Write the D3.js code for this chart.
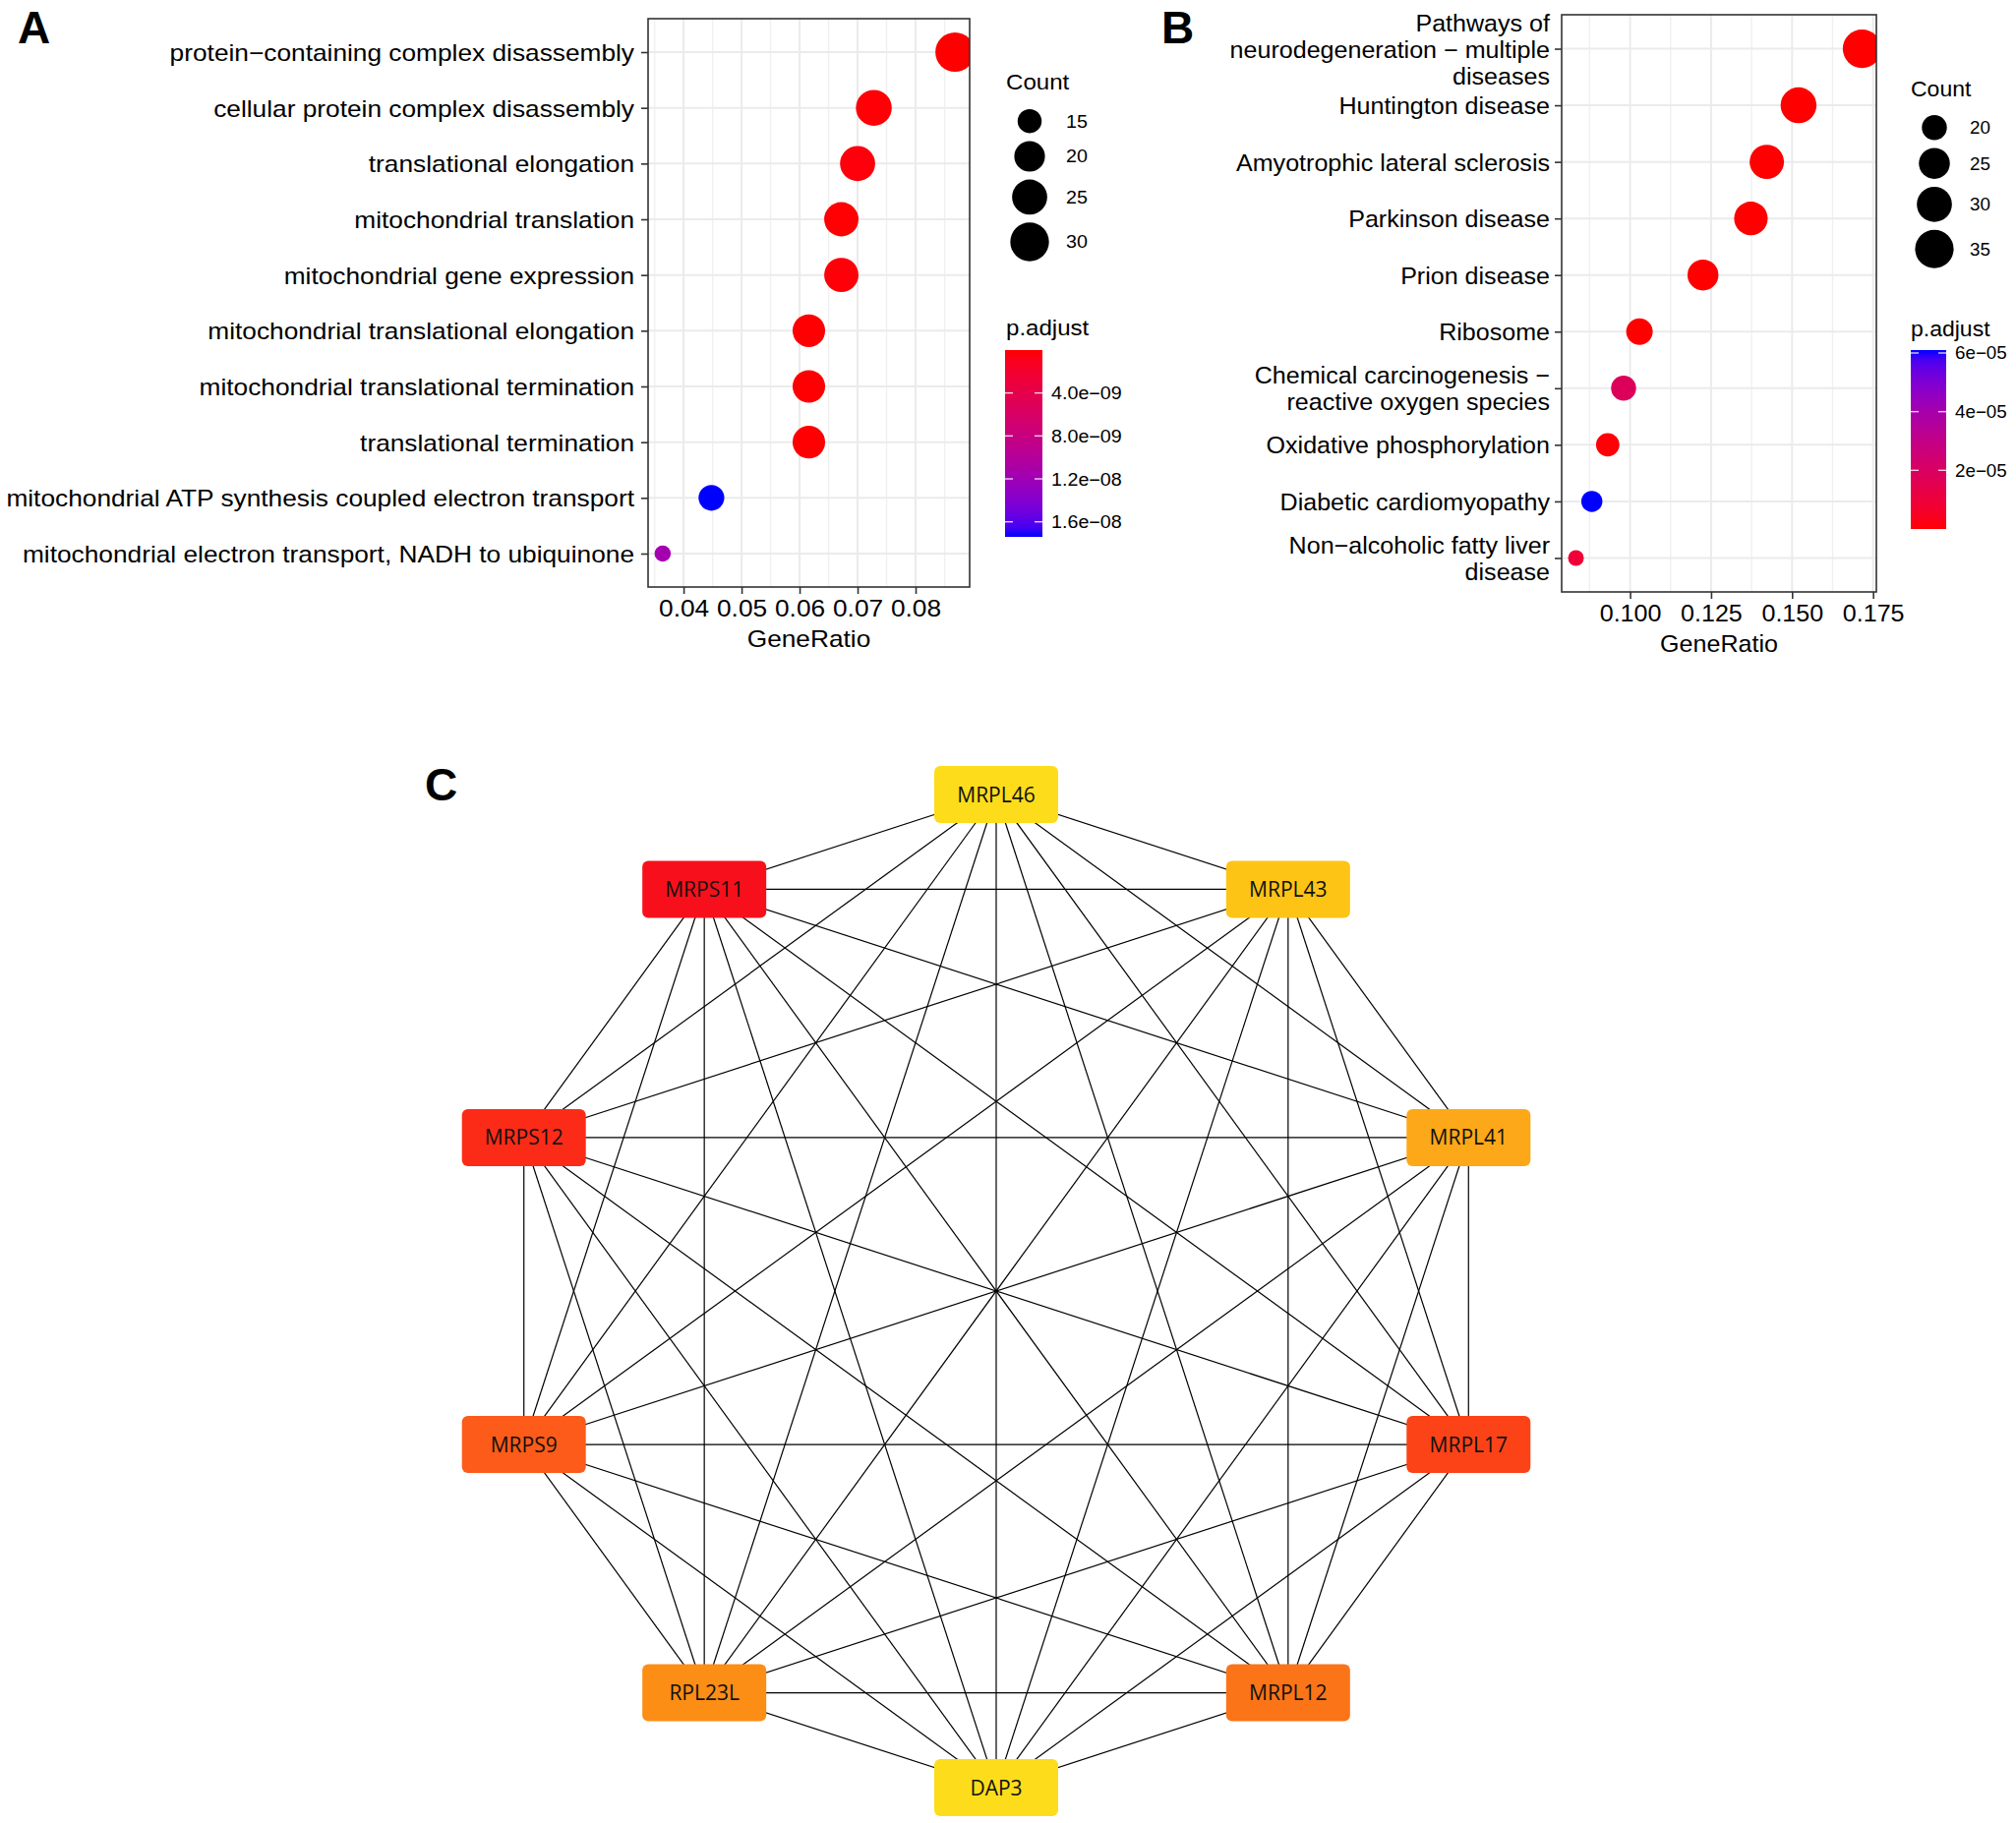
<!DOCTYPE html>
<html><head><meta charset="utf-8">
<script src="https://cdn.jsdelivr.net/npm/d3@7"></script>
<style>body{margin:0;background:#fff}svg{display:block}</style>
</head><body>
<svg id="fig" width="2050" height="1854"></svg>
<script>
// ---------------- DATA ----------------
// Panel A: GO enrichment
const goTerms = [
  ["protein−containing complex disassembly"],
  ["cellular protein complex disassembly"],
  ["translational elongation"],
  ["mitochondrial translation"],
  ["mitochondrial gene expression"],
  ["mitochondrial translational elongation"],
  ["mitochondrial translational termination"],
  ["translational termination"],
  ["mitochondrial ATP synthesis coupled electron transport"],
  ["mitochondrial electron transport, NADH to ubiquinone"]
];
const goRatio = [0.0868, 0.0728, 0.0700, 0.0672, 0.0672, 0.0616, 0.0616, 0.0616, 0.0448, 0.0364];
const goCount = [31, 26, 25, 24, 24, 22, 22, 22, 16, 13];
const goPadj  = [4.0e-12, 1.5e-10, 3.1e-10, 8.0e-11, 2.4e-10, 6.5e-11, 6.5e-11, 7.0e-11, 1.74e-8, 1.16e-8];
const goTicks = [0.04, 0.05, 0.06, 0.07, 0.08];
const goTickLabels = ["0.04", "0.05", "0.06", "0.07", "0.08"];
const goCountBreaks = [15, 20, 25, 30];
const goPadjBreaks = [4e-9, 8e-9, 1.2e-8, 1.6e-8];
const goPadjLabels = ["4.0e−09", "8.0e−09", "1.2e−08", "1.6e−08"];

// Panel B: KEGG enrichment
const keggTerms = [
  ["Pathways of", "neurodegeneration − multiple", "diseases"],
  ["Huntington disease"],
  ["Amyotrophic lateral sclerosis"],
  ["Parkinson disease"],
  ["Prion disease"],
  ["Ribosome"],
  ["Chemical carcinogenesis −", "reactive oxygen species"],
  ["Oxidative phosphorylation"],
  ["Diabetic cardiomyopathy"],
  ["Non−alcoholic fatty liver", "disease"]
];
const keggRatio = [0.1716, 0.1520, 0.1422, 0.1373, 0.1225, 0.1029, 0.0980, 0.0931, 0.0882, 0.0833];
const keggCount = [35, 31, 29, 28, 25, 21, 20, 19, 18, 17];
const keggPadj  = [2.0e-10, 1.1e-9, 3.5e-9, 2.2e-9, 4.0e-8, 9.0e-8, 1.8e-5, 6.0e-7, 6.1e-5, 9.0e-6];
const keggTicks = [0.100, 0.125, 0.150, 0.175];
const keggTickLabels = ["0.100", "0.125", "0.150", "0.175"];
const keggCountBreaks = [20, 25, 30, 35];
const keggPadjBreaks = [2e-5, 4e-5, 6e-5];
const keggPadjLabels = ["2e−05", "4e−05", "6e−05"];

// Panel C: PPI network (circular layout, clockwise from top)
const ppiNodes = ["MRPL46", "MRPL43", "MRPL41", "MRPL17", "MRPL12", "DAP3", "RPL23L", "MRPS9", "MRPS12", "MRPS11"];
const ppiColors = ["#FDDD1B", "#FDC416", "#FCA818", "#FC4318", "#FB7417", "#FDDD1B", "#FC8D15", "#FC5B19", "#FB2B17", "#F7101B"];
const ppiEdges = [
  ["MRPL46","MRPL43"],["MRPL46","MRPL41"],["MRPL46","MRPL17"],["MRPL46","MRPL12"],["MRPL46","DAP3"],
  ["MRPL46","RPL23L"],["MRPL46","MRPS9"],["MRPL46","MRPS12"],["MRPL46","MRPS11"],
  ["MRPL43","MRPL41"],["MRPL43","MRPL17"],["MRPL43","MRPL12"],["MRPL43","DAP3"],["MRPL43","RPL23L"],
  ["MRPL43","MRPS9"],["MRPL43","MRPS12"],["MRPL43","MRPS11"],
  ["MRPL41","MRPL17"],["MRPL41","MRPL12"],["MRPL41","DAP3"],["MRPL41","RPL23L"],["MRPL41","MRPS9"],
  ["MRPL41","MRPS12"],["MRPL41","MRPS11"],
  ["MRPL17","MRPL12"],["MRPL17","DAP3"],["MRPL17","RPL23L"],["MRPL17","MRPS9"],["MRPL17","MRPS12"],["MRPL17","MRPS11"],
  ["MRPL12","DAP3"],["MRPL12","RPL23L"],["MRPL12","MRPS9"],["MRPL12","MRPS12"],["MRPL12","MRPS11"],
  ["DAP3","RPL23L"],["DAP3","MRPS9"],["DAP3","MRPS12"],["DAP3","MRPS11"],
  ["RPL23L","MRPS9"],["RPL23L","MRPS12"],["RPL23L","MRPS11"],
  ["MRPS9","MRPS12"],["MRPS9","MRPS11"],
  ["MRPS12","MRPS11"]
];

// ---------------- DRAWING ----------------
const svg = d3.select("#fig");
svg.append("rect").attr("width", 2050).attr("height", 1854).attr("fill", "#fff");
const FONT = "'Liberation Sans', Arial, Helvetica, sans-serif";
const AX = 24;     // axis text size
const LT = 22;     // legend title size
const LL = 18;     // legend label size

function stext(g, x, y, s, size, anchor, sx) {
  return g.append("text")
    .attr("transform", `translate(${x},${y}) scale(${sx},1)`)
    .attr("text-anchor", anchor || "start")
    .attr("font-family", FONT).attr("font-size", size).attr("fill", "#000")
    .text(s);
}

function dotplot(cfg) {
  const SX = cfg.sx;
  const g = svg.append("g");
  const n = cfg.terms.length;
  const lo = d3.min(cfg.ratio), hi = d3.max(cfg.ratio), pad = (hi - lo) * 0.05;
  const x = d3.scaleLinear().domain([lo - pad, hi + pad]).range([cfg.left, cfg.right]);
  const y = d3.scalePoint().domain(d3.range(n)).range([cfg.top, cfg.bottom]).padding(0.6);
  const cMin = d3.min(cfg.count), cMax = d3.max(cfg.count);
  const rLin = d3.scaleLinear().domain([0, 1]).range(cfg.rRange);
  const r = c => rLin(Math.sqrt(Math.max(0, (c - cMin) / (cMax - cMin))));
  const pMin = d3.min(cfg.padj), pMax = d3.max(cfg.padj);
  const col = d3.scaleLinear().domain([pMin, pMax]).range(["red", "blue"]).interpolate(d3.interpolateLab);

  // panel background + grid
  g.append("rect").attr("x", cfg.left).attr("y", cfg.top)
    .attr("width", cfg.right - cfg.left).attr("height", cfg.bottom - cfg.top).attr("fill", "#fff");
  const ticks = cfg.ticks;
  const step = ticks[1] - ticks[0];
  const minor = [];
  for (let i = -1; i < ticks.length; i++) {
    const v = ticks[0] + (i + 0.5) * step;
    if (v > x.domain()[0] && v < x.domain()[1]) minor.push(v);
  }
  g.selectAll(".mn").data(minor).enter().append("line")
    .attr("x1", d => x(d)).attr("x2", d => x(d)).attr("y1", cfg.top).attr("y2", cfg.bottom)
    .attr("stroke", "#f0f0f0").attr("stroke-width", 1.4);
  g.selectAll(".mj").data(ticks).enter().append("line")
    .attr("x1", d => x(d)).attr("x2", d => x(d)).attr("y1", cfg.top).attr("y2", cfg.bottom)
    .attr("stroke", "#ebebeb").attr("stroke-width", 2);
  g.selectAll(".hz").data(d3.range(n)).enter().append("line")
    .attr("x1", cfg.left).attr("x2", cfg.right).attr("y1", d => y(d)).attr("y2", d => y(d))
    .attr("stroke", "#ebebeb").attr("stroke-width", 2);

  // points (clipped to panel)
  const clipId = "clip" + cfg.id;
  svg.append("clipPath").attr("id", clipId).append("rect")
    .attr("x", cfg.left).attr("y", cfg.top).attr("width", cfg.right - cfg.left).attr("height", cfg.bottom - cfg.top);
  g.append("g").attr("clip-path", `url(#${clipId})`)
    .selectAll("circle").data(d3.range(n)).enter().append("circle")
    .attr("cx", i => x(cfg.ratio[i])).attr("cy", i => y(i)).attr("r", i => r(cfg.count[i]))
    .attr("fill", i => col(cfg.padj[i]));

  // border
  g.append("rect").attr("x", cfg.left).attr("y", cfg.top)
    .attr("width", cfg.right - cfg.left).attr("height", cfg.bottom - cfg.top)
    .attr("fill", "none").attr("stroke", "#333").attr("stroke-width", 1.6);

  // x axis
  const xa = g.append("g").attr("transform", `translate(0,${cfg.bottom})`)
    .call(d3.axisBottom(x).tickValues(ticks).tickSize(7).tickFormat((d, i) => cfg.tickLabels[i]));
  xa.select(".domain").remove();
  xa.selectAll(".tick line").attr("stroke", "#333").attr("stroke-width", 1.6);
  xa.selectAll(".tick text").attr("y", 0).attr("dy", null)
    .attr("transform", `translate(0,30) scale(${SX},1)`)
    .attr("font-family", FONT).attr("font-size", AX).attr("fill", "#000");

  // y axis
  const ya = g.append("g").attr("transform", `translate(${cfg.left},0)`)
    .call(d3.axisLeft(y).tickSize(7).tickFormat(""));
  ya.select(".domain").remove();
  ya.selectAll(".tick line").attr("stroke", "#333").attr("stroke-width", 1.6);
  ya.selectAll(".tick").each(function (i) {
    const lines = cfg.terms[i];
    const t = d3.select(this).append("text")
      .attr("transform", `translate(${-cfg.labelGap},0) scale(${SX},1)`)
      .attr("text-anchor", "end").attr("font-family", FONT).attr("font-size", AX).attr("fill", "#000");
    lines.forEach((s, k) => {
      t.append("tspan").attr("x", 0).attr("y", (k - (lines.length - 1) / 2) * 27 + 8.5).text(s);
    });
  });

  // x title
  stext(g, (cfg.left + cfg.right) / 2, cfg.bottom + 61, "GeneRatio", AX, "middle", SX);

  // panel tag
  g.append("text").attr("x", cfg.tagX).attr("y", 44).attr("font-family", FONT)
    .attr("font-weight", "bold").attr("font-size", 46).text(cfg.tag);

  // size legend
  const L = cfg.legend;
  stext(g, L.x, L.countTitleY, "Count", LT, "start", SX);
  let yy = L.keyTop;
  cfg.countBreaks.forEach(c => {
    const rr = r(c), h = 2 * rr + 8;
    const cy = yy + h / 2;
    g.append("circle").attr("cx", L.keyCx).attr("cy", cy).attr("r", rr).attr("fill", "#000");
    stext(g, L.keyLabelX, cy + 6.5, String(c), LL, "start", SX);
    yy += h;
  });

  // colour bar
  stext(g, L.x, L.padjTitleY, "p.adjust", LT, "start", SX);
  const gradId = "grad" + cfg.id;
  const gr = svg.append("defs").append("linearGradient").attr("id", gradId)
    .attr("x1", 0).attr("x2", 0).attr("y1", 0).attr("y2", 1);
  const yb = d3.scaleLinear().domain(cfg.reverseBar ? [pMin, pMax] : [pMax, pMin])
    .range([L.barTop, L.barTop + L.barH]);
  d3.range(0, 1.0001, 0.05).forEach(f => {
    gr.append("stop").attr("offset", f).attr("stop-color", col(yb.invert(L.barTop + f * L.barH)));
  });
  g.append("rect").attr("x", L.barX).attr("y", L.barTop).attr("width", L.barW).attr("height", L.barH)
    .attr("fill", `url(#${gradId})`);
  cfg.padjBreaks.forEach((b, i) => {
    const ty = yb(b);
    g.append("line").attr("x1", L.barX).attr("x2", L.barX + 8).attr("y1", ty).attr("y2", ty)
      .attr("stroke", "#fff").attr("stroke-opacity", 0.8).attr("stroke-width", 1.4);
    g.append("line").attr("x1", L.barX + L.barW - 8).attr("x2", L.barX + L.barW).attr("y1", ty).attr("y2", ty)
      .attr("stroke", "#fff").attr("stroke-opacity", 0.8).attr("stroke-width", 1.4);
    stext(g, L.barX + L.barW + 9, ty + 6.5, cfg.padjLabels[i], LL, "start", SX);
  });
}

dotplot({
  id: "A", tag: "A", tagX: 18, sx: 1.095,
  terms: goTerms, ratio: goRatio, count: goCount, padj: goPadj,
  ticks: goTicks, tickLabels: goTickLabels, countBreaks: goCountBreaks,
  padjBreaks: goPadjBreaks, padjLabels: goPadjLabels, reverseBar: true,
  left: 659, right: 986, top: 19, bottom: 597, labelGap: 14,
  rRange: [8.3, 20.0],
  legend: { x: 1023, countTitleY: 91, keyTop: 107, keyCx: 1047, keyLabelX: 1084,
            padjTitleY: 341, barX: 1022, barTop: 356, barW: 38, barH: 190 }
});

dotplot({
  id: "B", tag: "B", tagX: 1181, sx: 1.045,
  terms: keggTerms, ratio: keggRatio, count: keggCount, padj: keggPadj,
  ticks: keggTicks, tickLabels: keggTickLabels, countBreaks: keggCountBreaks,
  padjBreaks: keggPadjBreaks, padjLabels: keggPadjLabels, reverseBar: false,
  left: 1588, right: 1908, top: 15, bottom: 602, labelGap: 12,
  rRange: [8.0, 19.6],
  legend: { x: 1943, countTitleY: 98, keyTop: 113, keyCx: 1967, keyLabelX: 2003,
            padjTitleY: 342, barX: 1943, barTop: 356, barW: 36, barH: 182 }
});

// ---------------- PANEL C ----------------
const gc = svg.append("g");
gc.append("text").attr("x", 432).attr("y", 814).attr("font-family", FONT)
  .attr("font-weight", "bold").attr("font-size", 46).text("C");
const netCx = 1013, netCy = 1313, netR = 505;
const ang = d3.scaleLinear().domain([0, ppiNodes.length]).range([-Math.PI / 2, 1.5 * Math.PI]);
const pos = {};
ppiNodes.forEach((nm, i) => {
  pos[nm] = [netCx + netR * Math.cos(ang(i)), netCy + netR * Math.sin(ang(i))];
});
gc.selectAll(".edge").data(ppiEdges).enter().append("line")
  .attr("x1", d => pos[d[0]][0]).attr("y1", d => pos[d[0]][1])
  .attr("x2", d => pos[d[1]][0]).attr("y2", d => pos[d[1]][1])
  .attr("stroke", "#000").attr("stroke-width", 1.2);
const BW = 126, BH = 58;
const nodeG = gc.selectAll(".node").data(ppiNodes).enter().append("g")
  .attr("transform", d => `translate(${pos[d][0]},${pos[d][1]})`);
nodeG.append("rect").attr("x", -BW / 2).attr("y", -BH / 2).attr("width", BW).attr("height", BH)
  .attr("rx", 6).attr("ry", 6).attr("fill", (d, i) => ppiColors[i]);
nodeG.append("text").attr("text-anchor", "middle").attr("y", 7.5)
  .attr("font-family", "'Open Sans', 'Noto Sans', sans-serif").attr("font-size", 21).attr("fill", "#111")
  .text(d => d);
</script>
</body></html>
